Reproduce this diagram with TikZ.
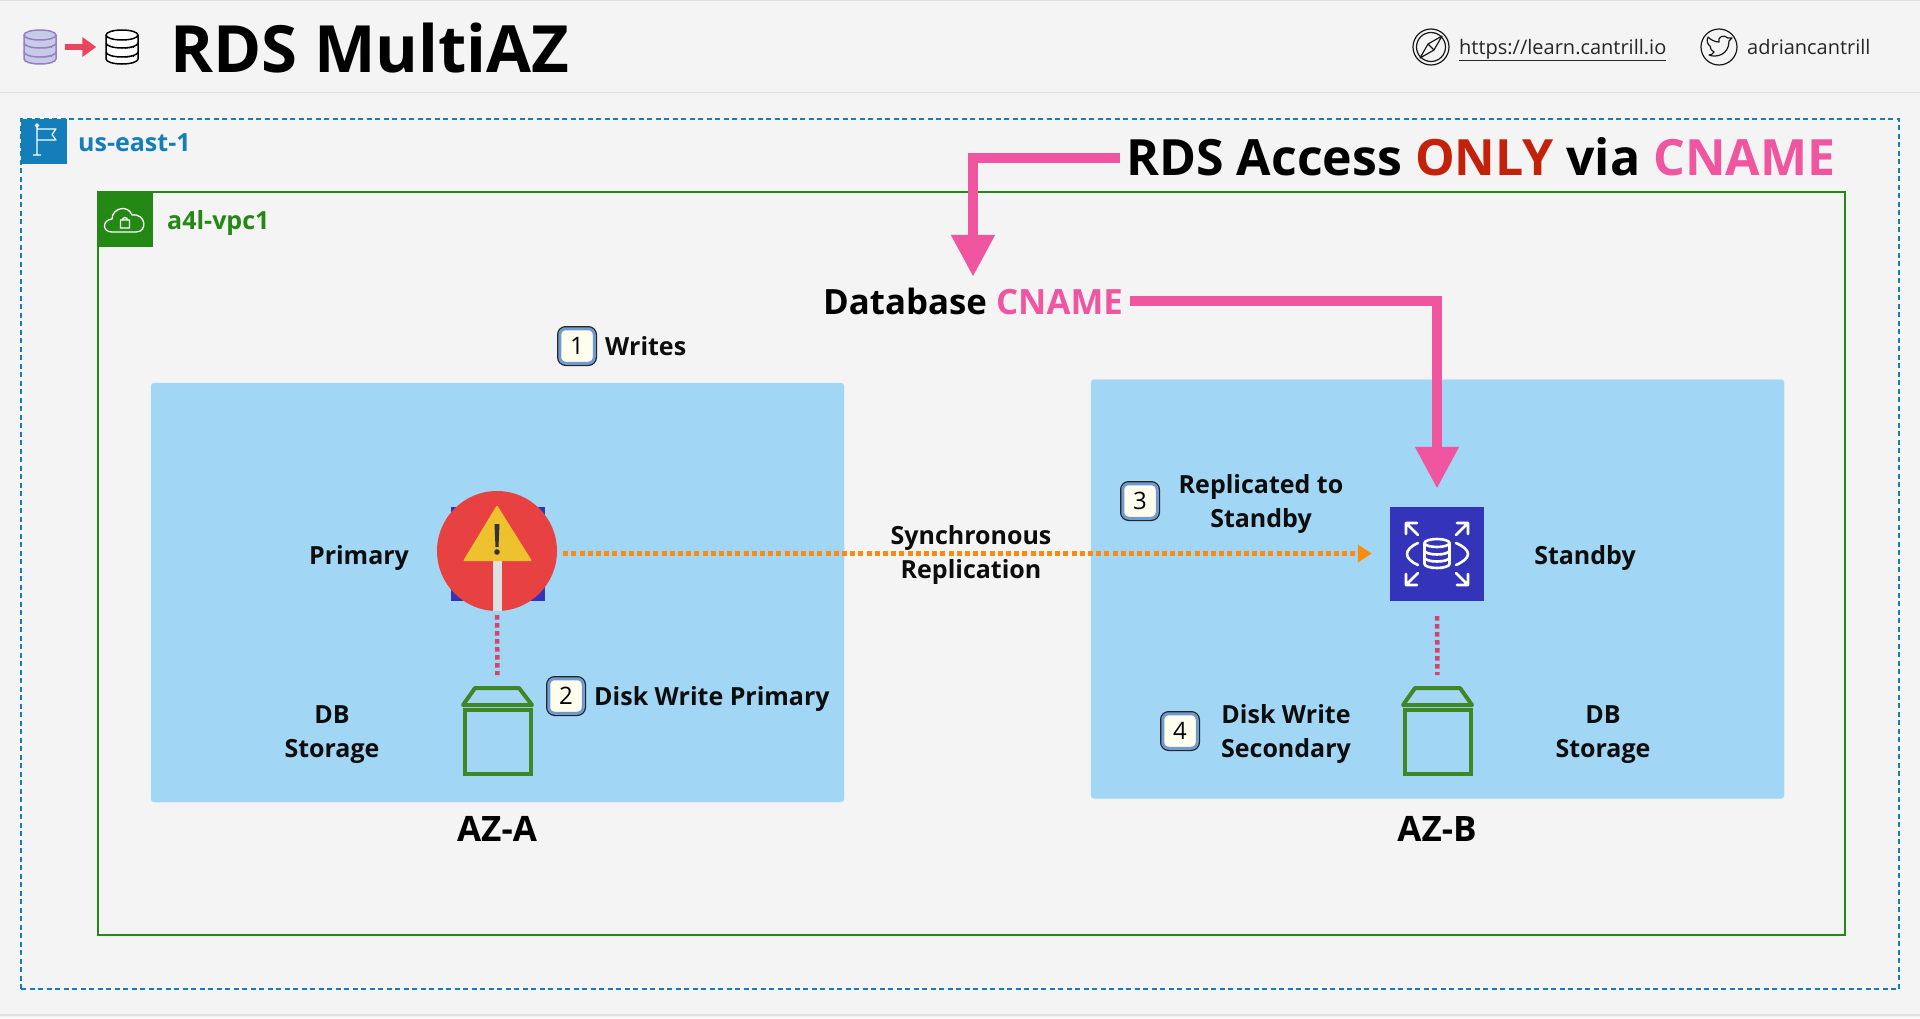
\documentclass[tikz,border=0pt]{standalone}
\usepackage{fontspec}
\setmainfont{Open Sans}
\usetikzlibrary{arrows.meta}
\definecolor{slidebg}{HTML}{F4F4F4}
\definecolor{regionblue}{HTML}{147EBA}
\definecolor{vpcgreen}{HTML}{248814}
\definecolor{azfill}{HTML}{A2D6F5}
\definecolor{azedge}{HTML}{B5DDF2}
\definecolor{cnamepink}{HTML}{EF569F}
\definecolor{onlyred}{HTML}{C4210B}
\definecolor{warnred}{HTML}{E84142}
\definecolor{warnyellow}{HTML}{EDC22E}
\definecolor{rdsblue}{HTML}{3334B9}
\definecolor{volgreen}{HTML}{3F8624}
\definecolor{syncorange}{HTML}{FF8A10}
\definecolor{diskred}{HTML}{D6446A}
\definecolor{headred}{HTML}{E8465F}
\definecolor{badgeblue}{HTML}{6F9BD0}
\definecolor{badgecream}{HTML}{FFFDEE}
\definecolor{dblilac}{HTML}{C5CBE8}
\definecolor{dbedge}{HTML}{9A7FC0}
\tikzset{
	label/.style={font=\bfseries\fontsize{25}{34}\selectfont, align=center, inner sep=0pt, text=black!95},
	azbox/.style={draw=azedge, fill=azfill, rounded corners=3pt, minimum width=693pt, minimum height=419pt, inner sep=0pt},
	azname/.style={font=\bfseries\fontsize{35}{40}\selectfont, inner sep=0pt},
	badge/.style={font=\fontsize{24}{28}\selectfont, rounded corners=6pt, inner sep=0pt, outer sep=0pt, minimum size=34.5pt, fill=badgecream,
		draw=badgeblue, line width=3pt, preaction={draw=black!85, line width=5.5pt}},
	volume/.style={draw=volgreen, line width=4pt, minimum width=66pt, minimum height=64pt, inner sep=0pt},
	pinkarrow/.style={draw=cnamepink, line width=10.5pt, -{Triangle[length=42pt,width=41pt]}},
	syncline/.style={draw=syncorange, line width=4.5pt, dash pattern=on 5pt off 3.2pt, -{Triangle[length=14pt,width=17pt]}},
	diskline/.style={draw=diskred, line width=4.5pt, dash pattern=on 4.5pt off 3.5pt},
	pics/dbstack/.style n args={2}{code={
		\draw[draw=#1, fill=#2, line width=1.5pt] (-16,-12) arc[start angle=180, end angle=360, x radius=16, y radius=5]
			-- (16,12) arc[start angle=360, end angle=180, x radius=16, y radius=-5] -- cycle;
		\draw[draw=#1, line width=1.5pt] (-16,-12) arc[start angle=180, end angle=360, x radius=16, y radius=-5];
		\draw[draw=#1, line width=1.5pt] (-16,-4) arc[start angle=180, end angle=360, x radius=16, y radius=-5];
		\draw[draw=#1, line width=1.5pt] (-16,5) arc[start angle=180, end angle=360, x radius=16, y radius=-5];
		\draw[draw=#1, line width=1.5pt, dash pattern=on 1pt off 1pt] (3,1) -- (13,0);
		\draw[draw=#1, line width=1.5pt, dash pattern=on 1pt off 1pt] (3,10) -- (13,9);
	}},
}
\begin{document}
\begin{tikzpicture}[x=1pt, y=-1pt]
	\fill[slidebg] (0,0) rectangle (1920,1018);
	\useasboundingbox (0,0) rectangle (1920,1018);
	\draw[black!12, line width=1pt] (0,0.5) -- (1920,0.5);
	\draw[black!12, line width=1.5pt] (0,92.5) -- (1920,92.5);
	\draw[black!12, line width=1.5pt] (0,1015) -- (1920,1015);
	% header
	\pic at (40,47) {dbstack={dbedge}{dblilac}};
	\pic at (122,47) {dbstack={black}{white}};
	\node[inner sep=0pt] (headfrom) at (64,47) {};
	\node[inner sep=0pt] (headto) at (97,47) {};
	\draw[headred, line width=6pt, -{Triangle[length=14pt,width=19pt]}] (headfrom) -- (headto);
	\node[font=\bfseries\fontsize{65.2}{70}\selectfont, inner sep=0pt, anchor=base west] (title) at (170,72) {RDS MultiAZ};
	\node[circle, draw=black!90, line width=1.2pt, minimum size=36pt, inner sep=0pt] (compass) at (1431,47) {};
	\draw[black!90, line width=1.2pt] (compass) circle[radius=14.5pt];
	\draw[black!90, line width=1.2pt, line join=round] (1420,58) -- (1428,44) -- (1442,36) -- (1434,50) -- cycle (1428,44) -- (1434,50);
	\node[font=\fontsize{20}{24}\selectfont, inner sep=0pt, anchor=base west, text=black!85] (website) at (1459,54) {\underline{https://learn.cantrill.io}};
	\node[circle, draw=black!90, line width=1.2pt, minimum size=36pt, inner sep=0pt] (twitter) at (1719,47) {};
	\draw[black!90, line width=1.2pt, line join=round] (1709,55) .. controls (1716,58) and (1729,55) .. (1729,41) -- (1732,38) -- (1728,38) .. controls (1724,34) and (1717,37) .. (1719,42)
		.. controls (1715,42) and (1711,40) .. (1708,37) .. controls (1706,41) and (1708,45) .. (1710,46) .. controls (1710,49) and (1712,51) .. (1714,52) .. controls (1713,54) and (1711,55) .. (1709,55) -- cycle;
	\node[font=\fontsize{20}{24}\selectfont, inner sep=0pt, anchor=base west, text=black!85] (handle) at (1747,54) {adriancantrill};
	% region and vpc
	\node[draw=regionblue, line width=2.5pt, dash pattern=on 5pt off 3.5pt, minimum width=1878pt, minimum height=870pt, inner sep=0pt] (region) at (960,554) {};
	\node[fill=regionblue, minimum width=46pt, minimum height=45pt, inner sep=0pt] (regionflag) at (44,141) {};
	\draw[white, line width=1.2pt, line join=round] (33,155) -- (41,155) (37,155) -- (37,127) (37,129) -- (56,129) -- (52,134.5) -- (56,140) -- (37,140);
	\node[draw=white, line width=1.2pt, circle, minimum size=3pt, inner sep=0pt] (flagtop) at (37,125.5) {};
	\node[font=\bfseries\fontsize{25}{28}\selectfont, text=regionblue, inner sep=0pt, anchor=west] (regionname) at (78,143) {us-east-1};
	\node[draw=vpcgreen, line width=2pt, minimum width=1747pt, minimum height=743pt, inner sep=0pt] (vpc) at (971.5,563.5) {};
	\node[fill=vpcgreen, minimum width=55pt, minimum height=55pt, inner sep=0pt] (vpccloud) at (125,219.5) {};
	\draw[white, line width=1.3pt, line join=round] (112,232) .. controls (102,232) and (102,220) .. (112,219) .. controls (112,208) and (128,204) .. (132,215)
		.. controls (146,213) and (148,232) .. (136,232) -- cycle;
	\draw[white, line width=1.3pt] (120.5,220) rectangle (129.5,228) (122.5,220) arc[start angle=180, end angle=360, radius=2.5];
	\node[font=\bfseries\fontsize{25}{28}\selectfont, text=vpcgreen, inner sep=0pt, anchor=west] (vpcname) at (167,223) {a4l-vpc1};
	% availability zones
	\node[azbox] (aza) at (497.5,592.5) {};
	\node[azbox] (azb) at (1437.5,589) {};
	\node[azname] (azaname) at (497,829) {AZ-A};
	\node[azname] (azbname) at (1437,829) {AZ-B};
	% primary, covered by the warning
	\node[fill=rdsblue, minimum size=94pt, inner sep=0pt] (primary) at (498,553.5) {};
	\node[circle, fill=warnred, minimum size=120pt, inner sep=0pt] (warning) at (497,551) {};
	\fill[black!12] (493,561) rectangle (501.5,611);
	\fill[warnyellow, rounded corners=1pt] (497,505) -- (532,561) -- (463,561) -- cycle;
	\fill[black!80] (494.5,524) -- (499.5,524) -- (498.5,547) -- (495.5,547) -- cycle;
	\fill[black!80] (497,552) circle[radius=2.8pt];
	% standby
	\node[fill=rdsblue, minimum size=94pt, inner sep=0pt] (standby) at (1437,554) {};
	\begin{scope}[white, line width=2.6pt, line cap=round, line join=round]
		\draw (1424.5,543) -- (1424.5,564) arc[start angle=180, end angle=360, x radius=12.5, y radius=-4] -- (1449.5,543);
		\draw (1424.5,543) arc[start angle=180, end angle=540, x radius=12.5, y radius=4];
		\draw (1424.5,550.5) arc[start angle=180, end angle=360, x radius=12.5, y radius=-4];
		\draw (1424.5,557.5) arc[start angle=180, end angle=360, x radius=12.5, y radius=-4];
		\draw (1418,543) .. controls (1411,546) and (1407,550) .. (1407,554) .. controls (1407,558) and (1411,562) .. (1418,565);
		\draw (1456,543) .. controls (1463,546) and (1468,550) .. (1468,554) .. controls (1468,558) and (1463,562) .. (1456,565);
		\draw (1406,523) -- (1418,535) (1406,534) -- (1406,523) -- (1417,523);
		\draw (1468,523) -- (1456,535) (1468,534) -- (1468,523) -- (1457,523);
		\draw (1406,585) -- (1418,573) (1406,574) -- (1406,585) -- (1417,585);
		\draw (1468,585) -- (1456,573) (1468,574) -- (1468,585) -- (1457,585);
	\end{scope}
	% volumes
	\node[volume] (volumea) at (497.5,741.5) {};
	\node[volume] (volumeb) at (1437.5,741.5) {};
	\draw[draw=volgreen, line width=4pt, line join=round] (463,705) -- (475,688) -- (519,688) -- (532,705) -- cycle;
	\draw[draw=volgreen, line width=4pt, line join=round] (1403,705) -- (1415,688) -- (1460,688) -- (1472,705) -- cycle;
	\coordinate (lida) at (497.5,688);
	\coordinate (lidb) at (1437.5,688);
	% labels
	\node[label] (primaryname) at (359,558) {Primary};
	\node[label] (storagea) at (332,734.5) {DB\\Storage};
	\node[label, anchor=west] (diskprimary) at (594,698.5) {Disk Write Primary};
	\node[label, anchor=west] (writes) at (605,346) {Writes};
	\node[label] (syncname) at (971,554.5) {Synchronous\\Replication};
	\node[label] (replicated) at (1261,503.5) {Replicated to\\Standby};
	\node[label] (standbyname) at (1585,558) {Standby};
	\node[label] (disksecondary) at (1286,734) {Disk Write\\Secondary};
	\node[label] (storageb) at (1603,734.5) {DB\\Storage};
	\node[badge] (stepone) at (577,346) {1};
	\node[badge] (steptwo) at (566,696) {2};
	\node[badge] (stepthree) at (1140,501) {3};
	\node[badge] (stepfour) at (1180,731) {4};
	\node[font=\bfseries\fontsize{50}{56}\selectfont, inner sep=6pt, anchor=base] (access) at (1481,175) {RDS Access \textcolor{onlyred}{ONLY} via \textcolor{cnamepink}{CNAME}};
	\node[font=\bfseries\fontsize{34.8}{38}\selectfont, inner sep=7pt] (cname) at (973,301) {Database \textcolor{cnamepink}{CNAME}};
	% connectors
	\draw[pinkarrow, shorten >=3.5pt] ([yshift=-1.5pt]access.west) -| (cname.north);
	\draw[pinkarrow, shorten >=18pt] (cname.east) -| (standby.north);
	\draw[syncline, shorten <=18pt, shorten >=18pt] (primary.east) -- (standby.west |- primary.east);
	\draw[diskline, shorten <=4pt, shorten >=13pt] (warning.south) -- (lida);
	\draw[diskline, shorten <=15pt, shorten >=13pt] (standby.south) -- (lidb);
\end{tikzpicture}
\end{document}
